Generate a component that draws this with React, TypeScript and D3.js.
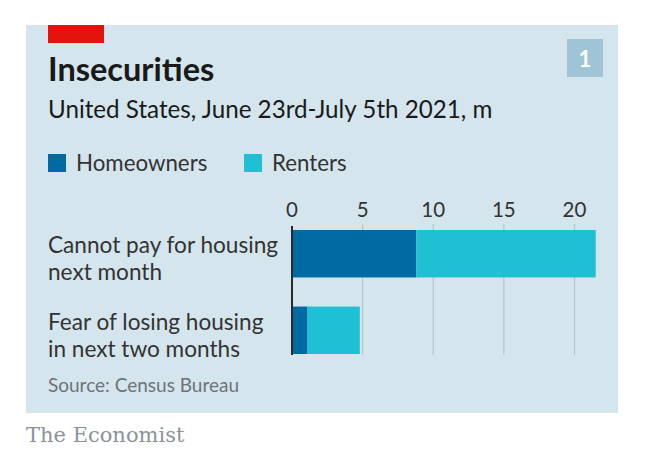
import React from "react";
import * as d3 from "d3";

const categories = [["Cannot pay for housing", "next month"], ["Fear of losing housing", "in next two months"]];
const homeowners = [8.8, 1.1];
const renters = [12.7, 3.7];
const ticks = [0, 5, 10, 15, 20];
const seriesNames = ["Homeowners", "Renters"];
const colors = ["#006ba2", "#1fc0d4"];

export default function App() {
  const W = 648, H = 466;
  const x = d3.scaleLinear().domain([0, 20]).range([292, 574.5]);
  const y = d3.scaleBand().domain(["0", "1"]).range([230, 354]).paddingInner(0.38).paddingOuter(0);
  const stack = d3.stack<any>().keys(["h", "r"])(homeowners.map((h, i) => ({ h, r: renters[i] })));
  const font = "Lato, 'Open Sans', sans-serif";
  return (
    <svg width={W} height={H} style={{ position: "absolute", left: 0, top: 0 }} fontFamily={font}>
      <rect x={0} y={0} width={W} height={H} fill="#ffffff" />
      <rect x={26} y={25} width={592} height={388} fill="#d5e5ee" />
      <rect x={48} y={25} width={56} height={18} fill="#e3120b" />
      <text x={48} y={81} fontSize={32.5} fontWeight={700} fill="#1a1a1a">Insecurities</text>
      <text x={48} y={118} fontSize={24.2} fill="#1a1a1a">United States, June 23rd-July 5th 2021, m</text>
      <rect x={567} y={39} width={36} height={38} fill="#9ec4d6" />
      <text x={585} y={66.5} fontSize={22} fontWeight={700} fill="#ffffff" textAnchor="middle">1</text>
      {seriesNames.map((s, i) => (
        <g key={s}>
          <rect x={[48, 244][i]} y={154} width={18} height={18} fill={colors[i]} />
          <text x={[76, 272][i]} y={171} fontSize={22.3} fill="#333">{s}</text>
        </g>
      ))}
      {ticks.map((t) => (
        <g key={t}>
          {t !== 0 && <line x1={x(t)} x2={x(t)} y1={224} y2={355} stroke="#b3c3cc" strokeWidth={1.2} />}
          <text x={x(t)} y={217} fontSize={20.5} fill="#333" textAnchor="middle">{t}</text>
        </g>
      ))}
      {stack.map((layer, si) =>
        layer.map((d, i) => (
          <rect key={si + "-" + i} x={x(d[0])} y={y(String(i))!} width={x(d[1]) - x(d[0])} height={y.bandwidth()} fill={colors[si]} />
        ))
      )}
      <line x1={x(0)} x2={x(0)} y1={226} y2={355} stroke="#2a2a2a" strokeWidth={2} />
      {categories.map((lines, i) => (
        <text key={i} x={48} fontSize={22.6} fill="#333">
          {lines.map((l, j) => (
            <tspan key={j} x={48} y={y(String(i))! + 23 + j * 27}>{l}</tspan>
          ))}
        </text>
      ))}
      <text x={48} y={392} fontSize={19} fill="#6b737a">Source: Census Bureau</text>
      <text x={26} y={442} fontSize={21} fill="#8a9399" fontFamily="'DejaVu Serif', 'Liberation Serif', serif">The Economist</text>
    </svg>
  );
}
